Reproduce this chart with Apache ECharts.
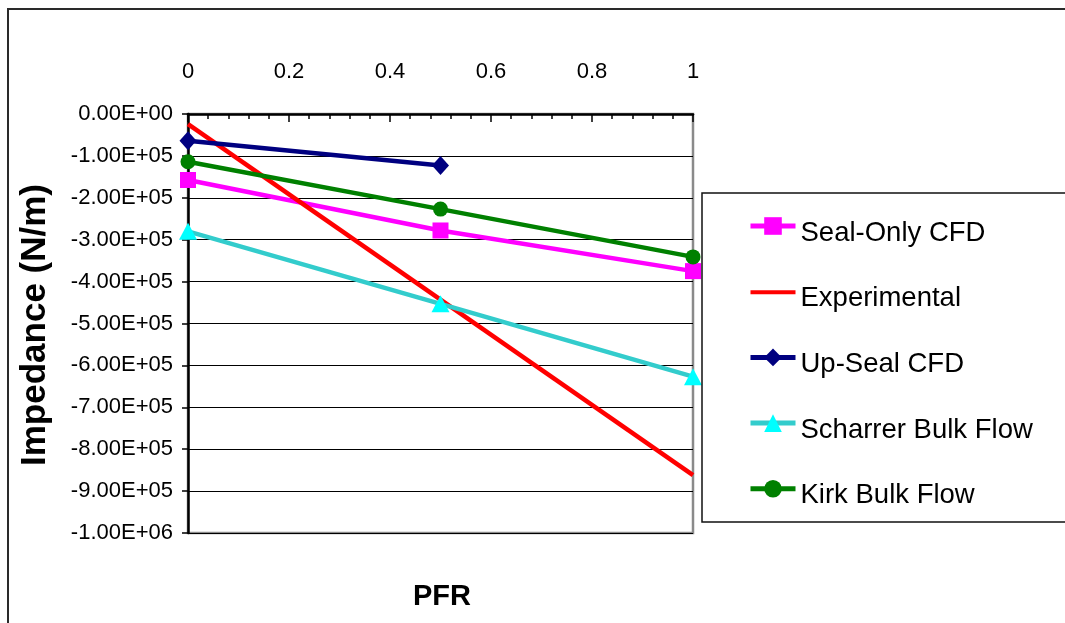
<!DOCTYPE html>
<html>
<head>
<meta charset="utf-8">
<script src="https://cdn.jsdelivr.net/npm/echarts@6/dist/echarts.min.js"></script>
<style>
  html, body { margin: 0; padding: 0; background: #fff; }
  #chart { width: 1065px; height: 623px; }
</style>
</head>
<body>
<div id="chart"></div>
<script>
// PFR values along the top axis
const pfr = [0, 0.5, 1];
const xTicks = [0, 0.2, 0.4, 0.6, 0.8, 1];

// Impedance (N/m) per series
const sealOnlyCfd = [-1.575e5, -2.78e5, -3.75e5];
const experimentalPfr = [0, 1];
const experimental = [-2.4e4, -8.62e5];
const upSealPfr = [0, 0.5];
const upSealCfd = [-6.4e4, -1.23e5];
const scharrerBulk = [-2.8e5, -4.53e5, -6.27e5];
const kirkBulk = [-1.14e5, -2.27e5, -3.41e5];

const seriesNames = ['Seal-Only CFD', 'Experimental', 'Up-Seal CFD', 'Scharrer Bulk Flow', 'Kirk Bulk Flow'];

function pairs(xs, ys) { return xs.map((x, i) => [x, ys[i]]); }

// Spreadsheet-style scientific notation: -1.00E+05
function sci(v) {
  const s = Number(v).toExponential(2);
  const m = s.split('e');
  const exp = parseInt(m[1], 10);
  const sign = exp < 0 ? '-' : '+';
  const e = String(Math.abs(exp)).padStart(2, '0');
  return m[0] + 'E' + sign + e;
}

const FONT = '"Liberation Sans", Arial, sans-serif';
const chart = echarts.init(document.getElementById('chart'), null, { renderer: 'canvas' });

const lineW = 4.5;
// plain line swatch for the series drawn without markers (zero-area strokes keep the full box)
const plainLineIcon = 'path://M0,0L0.01,0M0,9.5L45,9.5L45,13.5L0,13.5ZM0,22L0.01,22';

chart.setOption({
  animation: false,
  backgroundColor: '#fff',
  grid: {
    left: 188, top: 114, right: 372, bottom: 90,
    show: true, borderColor: '#8a8a8a', borderWidth: 2.5, backgroundColor: 'transparent'
  },
  xAxis: {
    type: 'value', position: 'top', min: 0, max: 1, interval: 0.2,
    axisLine: { show: true, onZero: false, lineStyle: { color: '#000', width: 2.5 } },
    axisTick: { show: true, inside: true, length: 8, lineStyle: { color: '#000', width: 1.5 } },
    minorTick: { show: true, splitNumber: 5, length: 5, lineStyle: { color: '#000', width: 1.5 } },
    splitLine: { show: false },
    axisLabel: {
      margin: 31, fontFamily: FONT, fontSize: 22, color: '#000',
      formatter: v => { const t = xTicks.find(k => Math.abs(k - v) < 1e-9); return t === undefined ? '' : String(t); }
    }
  },
  yAxis: {
    type: 'value', min: -1e6, max: 0, interval: 1e5,
    axisLine: { show: true, onZero: false, lineStyle: { color: '#000', width: 2.5 } },
    axisTick: { show: true, inside: false, length: 6, lineStyle: { color: '#000', width: 1.5 } },
    splitLine: { show: true, lineStyle: { color: '#000', width: 1 } },
    axisLabel: {
      margin: 15, fontFamily: FONT, fontSize: 22, color: '#000',
      formatter: v => sci(v)
    }
  },
  legend: {
    orient: 'vertical', left: 748, top: 205, padding: 0,
    itemWidth: 45, itemHeight: 22, itemGap: 23.7,
    z: 20,
    data: seriesNames.map(n => n === 'Experimental' ? { name: n, icon: plainLineIcon } : { name: n }),
    lineStyle: { width: 5 },
    formatter: name => '{t|' + name + '}',
    textStyle: {
      fontFamily: FONT, fontSize: 27.5, color: '#000',
      rich: { t: { fontFamily: FONT, fontSize: 27.5, color: '#000', lineHeight: 27, padding: [14, 0, 0, 0] } }
    }
  },
  series: [
    {
      name: seriesNames[0], type: 'line', data: pairs(pfr, sealOnlyCfd),
      symbol: 'rect', symbolSize: 16,
      lineStyle: { color: '#ff00ff', width: lineW }, itemStyle: { color: '#ff00ff' }
    },
    {
      name: seriesNames[1], type: 'line', data: pairs(experimentalPfr, experimental),
      symbol: 'none', clip: false,
      lineStyle: { color: '#ff0000', width: lineW }, itemStyle: { color: '#ff0000' }
    },
    {
      name: seriesNames[2], type: 'line', data: pairs(upSealPfr, upSealCfd),
      symbol: 'diamond', symbolSize: [17, 19],
      lineStyle: { color: '#000080', width: lineW }, itemStyle: { color: '#000080' }
    },
    {
      name: seriesNames[3], type: 'line', data: pairs(pfr, scharrerBulk),
      symbol: 'triangle', symbolSize: [18, 17],
      lineStyle: { color: '#33cccc', width: lineW }, itemStyle: { color: '#00ffff' }
    },
    {
      name: seriesNames[4], type: 'line', data: pairs(pfr, kirkBulk),
      symbol: 'circle', symbolSize: 15,
      lineStyle: { color: '#008000', width: lineW }, itemStyle: { color: '#008000' }
    }
  ],
  graphic: [
    // outer chart frame (left and top edges; the rest runs off the page)
    { type: 'polyline', z: 1, silent: true, shape: { points: [[8, 640], [8, 9], [1080, 9]] },
      style: { fill: 'none', stroke: '#2a2a2a', lineWidth: 2 } },
    // legend frame
    { type: 'rect', z: 15, silent: true, shape: { x: 702, y: 193, width: 400, height: 329 },
      style: { fill: '#fff', stroke: '#111', lineWidth: 1.5 } },
    // y-axis title
    { type: 'text', x: 35, y: 325, rotation: Math.PI / 2, silent: true,
      style: { text: 'Impedance (N/m)', fontFamily: FONT, fontSize: 35, fontWeight: 'bold',
               fill: '#000', align: 'center', verticalAlign: 'middle' } },
    // x-axis title
    { type: 'text', x: 442, y: 597, silent: true,
      style: { text: 'PFR', fontFamily: FONT, fontSize: 29, fontWeight: 'bold',
               fill: '#000', align: 'center', verticalAlign: 'middle' } }
  ]
});
</script>
</body>
</html>
